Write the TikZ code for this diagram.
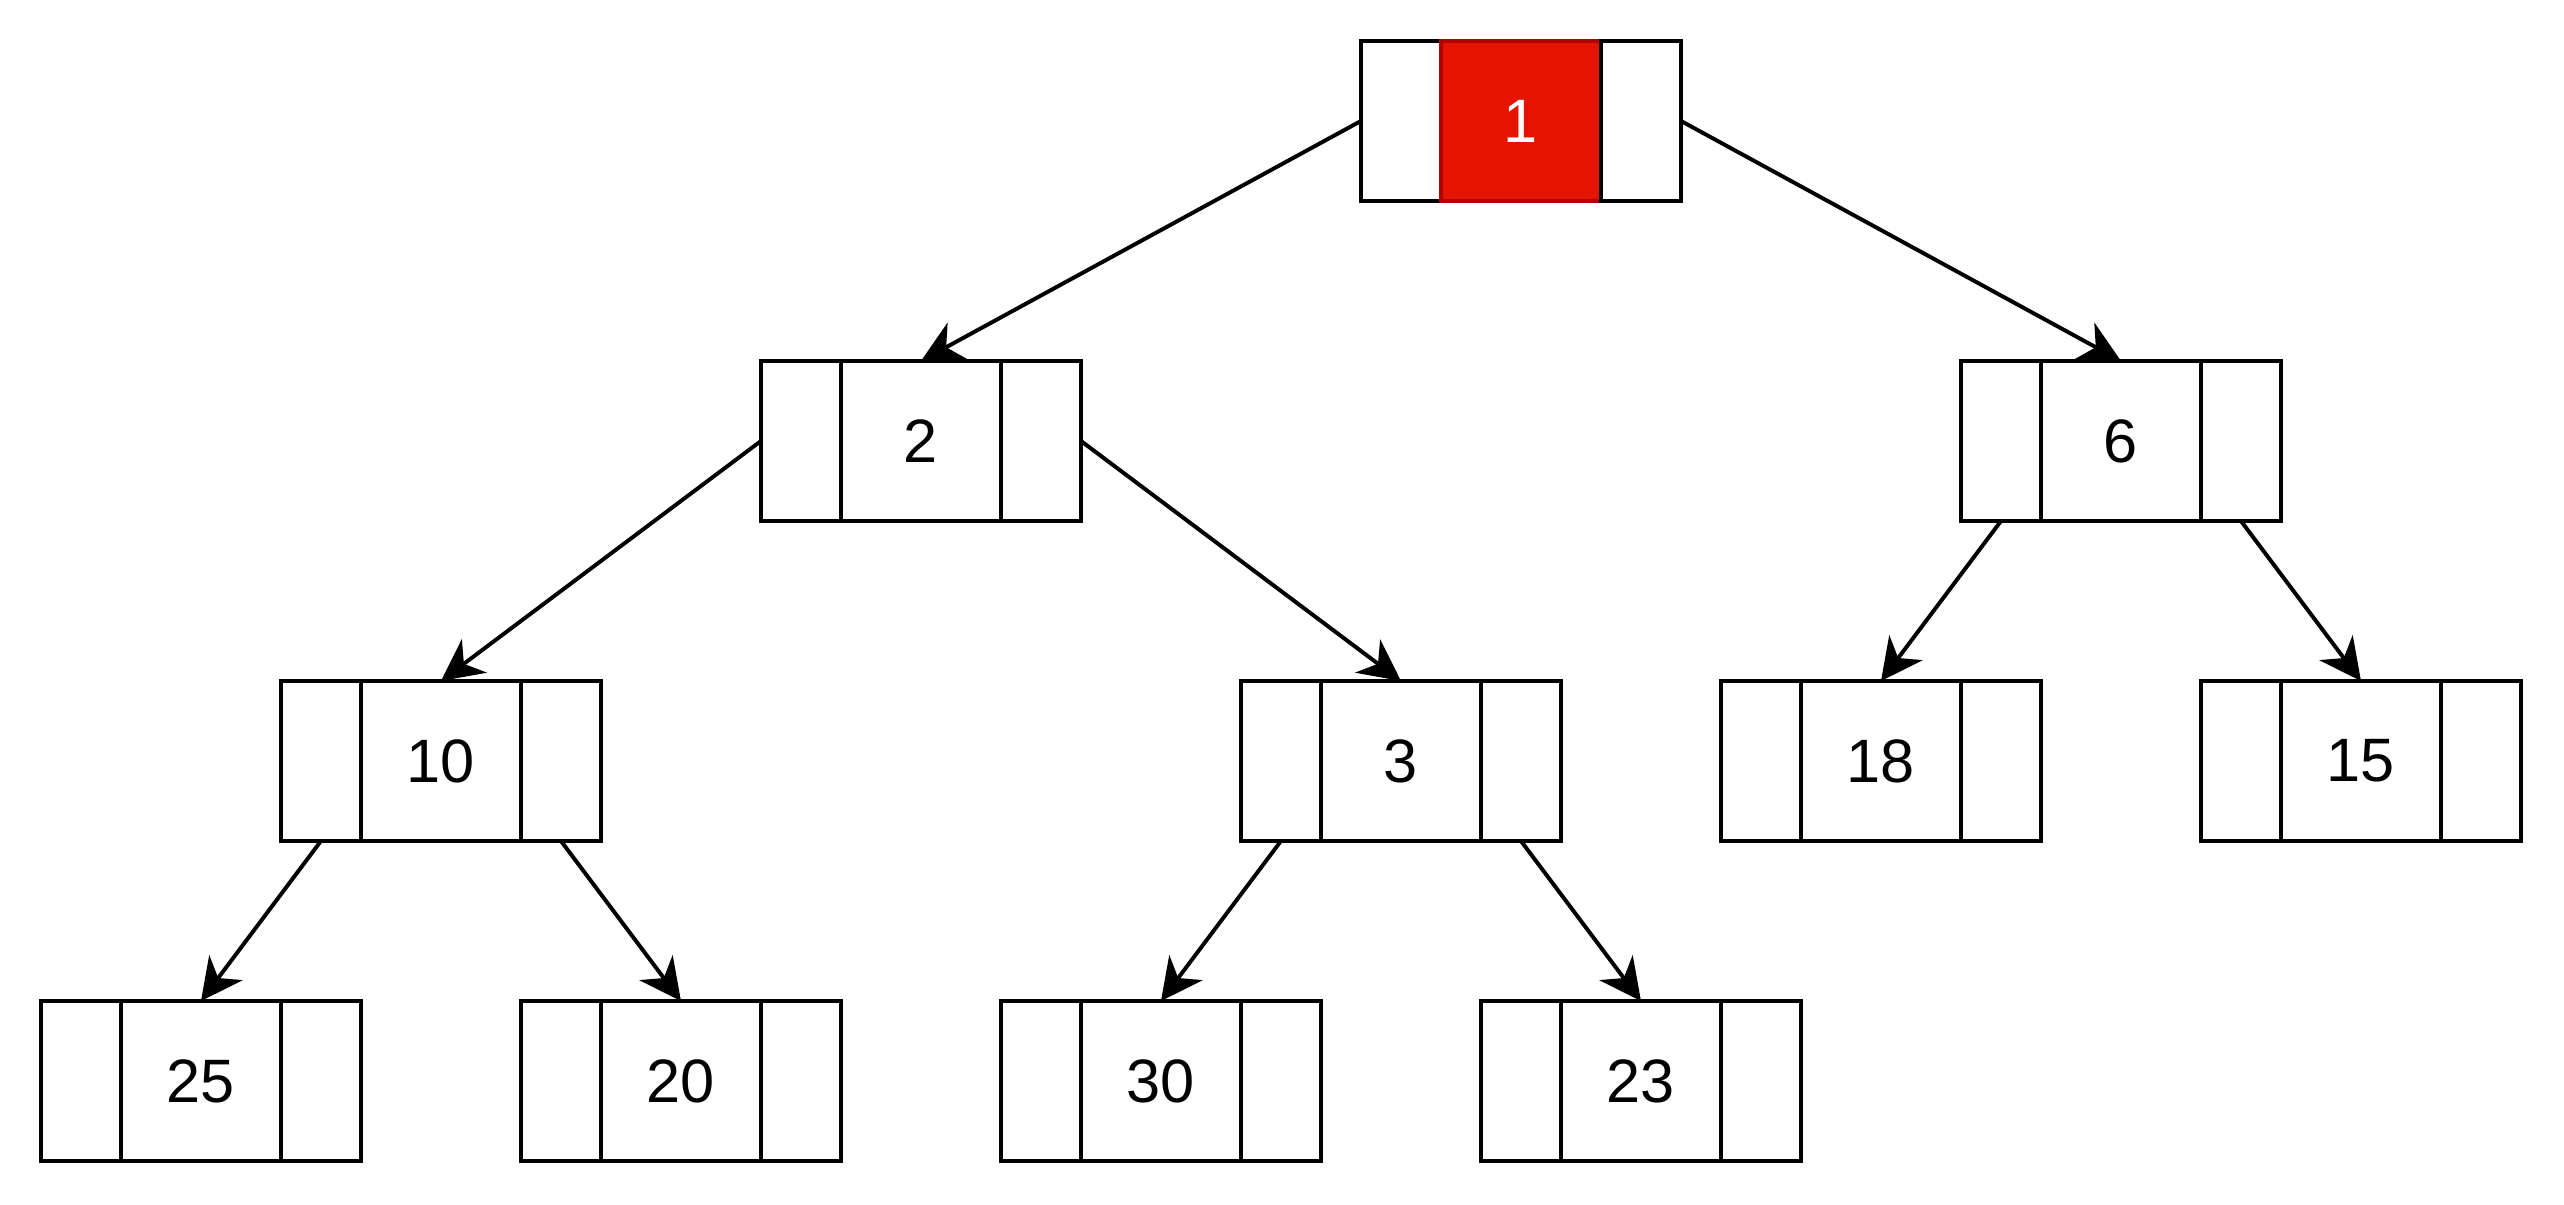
\documentclass[tikz,border=0pt]{standalone}
\usepackage{fontspec}
\setmainfont{Liberation Sans}
\usetikzlibrary{arrows.meta}
\definecolor{heapred}{HTML}{E51400}
\definecolor{heapline}{HTML}{B20000}
\tikzset{
  cell/.style={draw,line width=0.7pt,minimum height=1cm,inner sep=0pt,outer sep=0pt,
    font=\fontsize{10.9pt}{12pt}\selectfont},
  side/.style={cell,minimum width=0.5cm},
  key/.style={cell,minimum width=1cm},
  edge/.style={line width=0.7pt,-{Stealth[length=7.4pt,width=7.4pt,inset=2.3pt]}}
}
\begin{document}
\begin{tikzpicture}
    \useasboundingbox (-0.256,-6.769) rectangle (15.769,0.756);
    \foreach \n/\x/\y in {1/9.25/0,2/5.5/-2,6/13/-2,10/2.5/-4,3/8.5/-4,18/11.5/-4,
      15/14.5/-4,25/1/-6,20/4/-6,30/7/-6,23/10/-6}{
      \coordinate(c\n) at (\x,\y);
    }
    \foreach \n in {1,2,6,10,3,18,15,25,20,30,23}{
      \node[side,xshift=-0.75cm] (l\n) at (c\n) {};
    }
    \node[key,fill=heapred,draw=heapline,text=white] (v1) at (c1) {1};
    \foreach \n in {2,6,10,3,18,15,25,20,30,23}{
      \node[key] (v\n) at (c\n) {\n};
    }
    \foreach \n in {1,2,6,10,3,18,15,25,20,30,23}{
      \node[side,xshift=0.75cm] (r\n) at (c\n) {};
    }
    \foreach \a/\b in {1/2,2/10}
      \draw[edge] (l\a.west) -- (v\b.north);
    \foreach \a/\b in {1/6,2/3}
      \draw[edge] (r\a.east) -- (v\b.north);
    \foreach \a/\b in {6/18,10/25,3/30}
      \draw[edge] (l\a.south) -- (v\b.north);
    \foreach \a/\b in {6/15,10/20,3/23}
      \draw[edge] (r\a.south) -- (v\b.north);
\end{tikzpicture}
\end{document}
